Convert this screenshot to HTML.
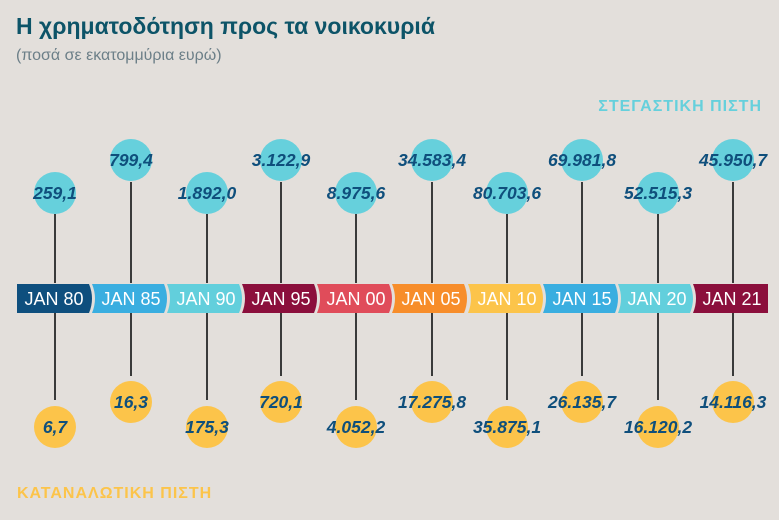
<!DOCTYPE html>
<html><head><meta charset="utf-8"><style>
body{margin:0;background:#e3dfdb;}
svg{display:block;}
.t{font-family:"Liberation Sans",sans-serif;}
.v{font-family:"Liberation Sans",sans-serif;font-weight:bold;font-style:italic;font-size:17.5px;fill:#0f4f7c;text-anchor:middle;}
.b{font-family:"Liberation Sans",sans-serif;font-size:18px;fill:#fff;text-anchor:middle;}
</style></head><body>
<svg width="779" height="520" xmlns="http://www.w3.org/2000/svg">
<rect width="779" height="520" fill="#e3dfdb"/>
<text class="t" x="16" y="34" font-size="23" font-weight="bold" fill="#0d5468">Η χρηματοδότηση προς τα νοικοκυριά</text>
<text class="t" x="16" y="60" font-size="16" fill="#6c7f88">(ποσά σε εκατομμύρια ευρώ)</text>
<text class="t" x="762" y="111" font-size="16" font-weight="bold" fill="#66d0dc" text-anchor="end" letter-spacing="1">ΣΤΕΓΑΣΤΙΚΗ ΠΙΣΤΗ</text>
<text class="t" x="17" y="498" font-size="16" font-weight="bold" fill="#fcc44a" letter-spacing="1">ΚΑΤΑΝΑΛΩΤΙΚΗ ΠΙΣΤΗ</text>
<g stroke="#3a3a3a" stroke-width="2">
<line x1="55" y1="214" x2="55" y2="283"/><line x1="131" y1="182" x2="131" y2="283"/>
<line x1="207" y1="214" x2="207" y2="283"/><line x1="281" y1="182" x2="281" y2="283"/>
<line x1="356" y1="214" x2="356" y2="283"/><line x1="432" y1="182" x2="432" y2="283"/>
<line x1="507" y1="214" x2="507" y2="283"/><line x1="582" y1="182" x2="582" y2="283"/>
<line x1="658" y1="214" x2="658" y2="283"/><line x1="733" y1="182" x2="733" y2="283"/>
<line x1="55" y1="313" x2="55" y2="400"/><line x1="131" y1="313" x2="131" y2="376"/>
<line x1="207" y1="313" x2="207" y2="400"/><line x1="281" y1="313" x2="281" y2="376"/>
<line x1="356" y1="313" x2="356" y2="400"/><line x1="432" y1="313" x2="432" y2="376"/>
<line x1="507" y1="313" x2="507" y2="400"/><line x1="582" y1="313" x2="582" y2="376"/>
<line x1="658" y1="313" x2="658" y2="400"/><line x1="733" y1="313" x2="733" y2="376"/>
</g>
<g fill="#66d0dc">
<circle cx="55" cy="193" r="21"/><circle cx="131" cy="160" r="21"/><circle cx="207" cy="193" r="21"/><circle cx="281" cy="160" r="21"/><circle cx="356" cy="193" r="21"/><circle cx="432" cy="160" r="21"/><circle cx="507" cy="193" r="21"/><circle cx="582" cy="160" r="21"/><circle cx="658" cy="193" r="21"/><circle cx="733" cy="160" r="21"/>
</g>
<g fill="#fcc44a">
<circle cx="55" cy="427" r="21"/><circle cx="131" cy="402" r="21"/><circle cx="207" cy="427" r="21"/><circle cx="281" cy="402" r="21"/><circle cx="356" cy="427" r="21"/><circle cx="432" cy="402" r="21"/><circle cx="507" cy="427" r="21"/><circle cx="582" cy="402" r="21"/><circle cx="658" cy="427" r="21"/><circle cx="733" cy="402" r="21"/>
</g>
<g class="v">
<text x="55" y="199">259,1</text><text x="131" y="166">799,4</text><text x="207" y="199">1.892,0</text><text x="281" y="166">3.122,9</text><text x="356" y="199">8.975,6</text><text x="432" y="166">34.583,4</text><text x="507" y="199">80.703,6</text><text x="582" y="166">69.981,8</text><text x="658" y="199">52.515,3</text><text x="733" y="166">45.950,7</text>
<text x="55" y="433">6,7</text><text x="131" y="408">16,3</text><text x="207" y="433">175,3</text><text x="281" y="408">720,1</text><text x="356" y="433">4.052,2</text><text x="432" y="408">17.275,8</text><text x="507" y="433">35.875,1</text><text x="582" y="408">26.135,7</text><text x="658" y="433">16.120,2</text><text x="733" y="408">14.116,3</text>
</g>
<g>
<path d="M17 284 H89 Q95 298.5 89 313 H17 Z" fill="#0e4f7e"/>
<path d="M92 284 H164 Q170 298.5 164 313 H92 Q98 298.5 92 284Z" fill="#3aaee0"/>
<path d="M167 284 H239 Q245 298.5 239 313 H167 Q173 298.5 167 284Z" fill="#62cfdc"/>
<path d="M242 284 H314 Q320 298.5 314 313 H242 Q248 298.5 242 284Z" fill="#8b0f3c"/>
<path d="M317 284 H389 Q395 298.5 389 313 H317 Q323 298.5 317 284Z" fill="#e04c5a"/>
<path d="M392 284 H464 Q470 298.5 464 313 H392 Q398 298.5 392 284Z" fill="#f78d2a"/>
<path d="M468 284 H540 Q546 298.5 540 313 H468 Q474 298.5 468 284Z" fill="#fcc44a"/>
<path d="M543 284 H615 Q621 298.5 615 313 H543 Q549 298.5 543 284Z" fill="#3aaee0"/>
<path d="M618 284 H690 Q696 298.5 690 313 H618 Q624 298.5 618 284Z" fill="#62cfdc"/>
<path d="M693 284 H768 V313 H693 Q699 298.5 693 284Z" fill="#8b0f3c"/>
</g>
<g class="b">
<text x="54" y="305">JAN 80</text><text x="131" y="305">JAN 85</text><text x="206" y="305">JAN 90</text><text x="281" y="305">JAN 95</text><text x="356" y="305">JAN 00</text><text x="431" y="305">JAN 05</text><text x="507" y="305">JAN 10</text><text x="582" y="305">JAN 15</text><text x="657" y="305">JAN 20</text><text x="732" y="305">JAN 21</text>
</g>
</svg>
</body></html>
